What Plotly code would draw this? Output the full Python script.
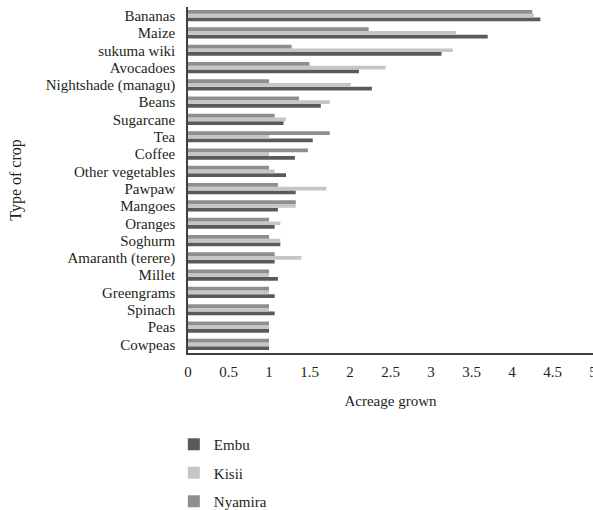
import plotly.graph_objects as go

crops = ["Bananas", "Maize", "sukuma wiki", "Avocadoes", "Nightshade (managu)",
         "Beans", "Sugarcane", "Tea", "Coffee", "Other vegetables", "Pawpaw",
         "Mangoes", "Oranges", "Soghurm", "Amaranth (terere)", "Millet",
         "Greengrams", "Spinach", "Peas", "Cowpeas"]

embu = [4.35, 3.70, 3.13, 2.11, 2.27, 1.64, 1.18, 1.54, 1.32, 1.21, 1.33,
        1.11, 1.07, 1.14, 1.07, 1.11, 1.07, 1.07, 1.0, 1.0]
kisii = [4.27, 3.31, 3.27, 2.44, 2.01, 1.75, 1.21, 1.0, 1.0, 1.07, 1.71,
         1.33, 1.14, 1.14, 1.40, 1.0, 1.0, 1.0, 1.0, 1.0]
nyamira = [4.25, 2.23, 1.28, 1.50, 1.0, 1.37, 1.07, 1.75, 1.48, 1.0, 1.11,
           1.33, 1.0, 1.0, 1.07, 1.0, 1.0, 1.0, 1.0, 1.0]

x_ticks = [0, 0.5, 1, 1.5, 2, 2.5, 3, 3.5, 4, 4.5, 5]

series = [("Embu", embu, "#5a5a5a"),
          ("Kisii", kisii, "#c6c6c6"),
          ("Nyamira", nyamira, "#8e8e8e")]

font_family = "Liberation Serif"
text_color = "#231f20"

fig = go.Figure()
for i, (name, vals, color) in enumerate(series):
    fig.add_trace(go.Bar(
        y=crops, x=vals, name=name, orientation="h",
        marker=dict(color=color, line=dict(width=0)),
        legendgroup=f"g{i}",
    ))

fig.update_layout(
    width=593, height=510,
    margin=dict(l=188, r=0, t=7, b=157, autoexpand=False),
    paper_bgcolor="white", plot_bgcolor="white",
    barmode="group", bargap=0.35, bargroupgap=0,
    font=dict(family=font_family, size=15, color=text_color),
    showlegend=True,
    legend=dict(
        x=-0.035, xanchor="left", y=-0.217, yanchor="top",
        traceorder="grouped", tracegroupgap=6,
        font=dict(family=font_family, size=15, color=text_color),
        bgcolor="rgba(0,0,0,0)",
    ),
    xaxis=dict(
        range=[0, 5], tickmode="array", tickvals=x_ticks,
        ticktext=[f"{v:g}" for v in x_ticks],
        showgrid=False, zeroline=False, automargin=False,
        showline=True, linecolor="#404040", linewidth=1.5,
        ticks="", ticklabelstandoff=4, ticklabeloverflow="allow",
        title=dict(text="Acreage grown", standoff=17,
                   font=dict(family=font_family, size=15)),
    ),
    yaxis=dict(
        categoryorder="array", categoryarray=crops[::-1],
        tickmode="array", tickvals=crops, ticktext=crops,
        showgrid=False, zeroline=False, automargin=False,
        showline=True, linecolor="#404040", linewidth=1.5,
        ticks="", ticklabelstandoff=8,
        title=dict(text="Type of crop", standoff=20,
                   font=dict(family=font_family, size=16)),
    ),
)

fig.write_html("out.html")
